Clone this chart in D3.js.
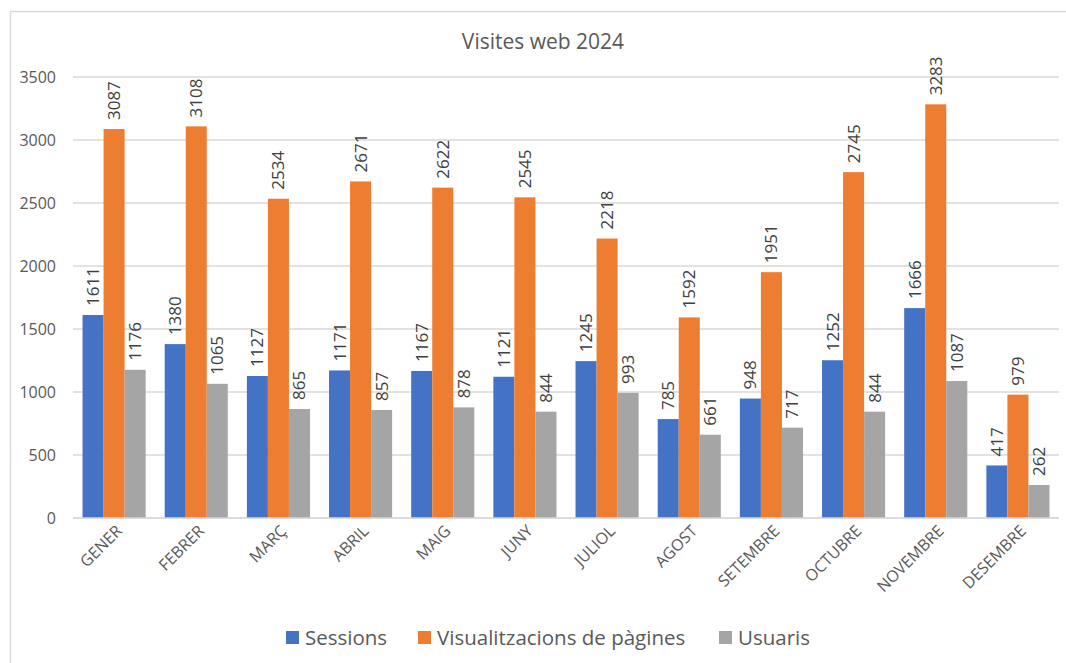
<!DOCTYPE html>
<html>
<head>
<meta charset="utf-8">
<script src="https://cdn.jsdelivr.net/npm/d3@7"></script>
<style>
  body { margin: 0; background: #fff; }
  text { font-family: "Open Sans", "Noto Sans", sans-serif; }
</style>
</head>
<body>
<div id="chart"></div>
<script>
// data
var months = ["GENER","FEBRER","MARÇ","ABRIL","MAIG","JUNY","JULIOL","AGOST","SETEMBRE","OCTUBRE","NOVEMBRE","DESEMBRE"];
var sessions = [1611,1380,1127,1171,1167,1121,1245,785,948,1252,1666,417];
var pageViews = [3087,3108,2534,2671,2622,2545,2218,1592,1951,2745,3283,979];
var users = [1176,1065,865,857,878,844,993,661,717,844,1087,262];
var seriesNames = ["Sessions","Visualitzacions de pàgines","Usuaris"];
var seriesColors = ["#4472C4","#ED7D31","#A5A5A5"];
var yTicks = [0,500,1000,1500,2000,2500,3000,3500];

var W = 1066, H = 663;
var margin = {top: 77, right: 7, bottom: 145, left: 73},
    width = W - margin.left - margin.right,
    height = H - margin.top - margin.bottom;

var svg = d3.select("#chart").append("svg")
    .attr("width", W)
    .attr("height", H);

// chart border
svg.append("rect")
  .attr("x", 10.5).attr("y", 11.5)
  .attr("width", W).attr("height", H)
  .attr("fill", "none").attr("stroke", "#D9D9D9").attr("stroke-width", 1.5);

svg.append("text")
  .attr("x", 543).attr("y", 49)
  .attr("text-anchor", "middle")
  .attr("font-size", 21)
  .attr("fill", "#595959")
  .text("Visites web 2024");

var g = svg.append("g")
  .attr("transform", "translate(" + margin.left + "," + margin.top + ")");

var x = d3.scaleBand()
  .domain(months)
  .range([0, width])
  .paddingInner(0.232)
  .paddingOuter(0.116);

var xs = d3.scaleBand()
  .domain(seriesNames)
  .range([0, x.bandwidth()]);

var y = d3.scaleLinear()
  .domain([0, 3500])
  .range([height, 0]);

// gridlines
g.selectAll(".grid")
  .data(yTicks)
  .enter().append("line")
    .attr("x1", 0).attr("x2", width)
    .attr("y1", function(d) { return y(d); })
    .attr("y2", function(d) { return y(d); })
    .attr("stroke", "#D9D9D9").attr("stroke-width", 1.3);

// y axis
var yAxis = g.append("g")
  .call(d3.axisLeft(y).tickValues(yTicks).tickFormat(d3.format("d")).tickSize(0).tickPadding(17));
yAxis.select(".domain").remove();
yAxis.selectAll("text")
  .attr("font-size", 16)
  .attr("fill", "#595959")
  .style("font-family", "'Open Sans', 'Noto Sans', sans-serif");

var rows = months.map(function(m, i) {
  return {month: m, values: [sessions[i], pageViews[i], users[i]]};
});

var groups = g.selectAll(".grp")
  .data(rows)
  .enter().append("g")
    .attr("transform", function(d) { return "translate(" + x(d.month) + ",0)"; });

groups.selectAll("rect")
  .data(function(d) { return d.values.map(function(v, k) { return {name: seriesNames[k], v: v, k: k}; }); })
  .enter().append("rect")
    .attr("x", function(d) { return xs(d.name); })
    .attr("y", function(d) { return y(d.v); })
    .attr("width", xs.bandwidth())
    .attr("height", function(d) { return height - y(d.v); })
    .attr("fill", function(d) { return seriesColors[d.k]; });

groups.selectAll(".lbl")
  .data(function(d) { return d.values.map(function(v, k) { return {name: seriesNames[k], v: v, k: k}; }); })
  .enter().append("text")
    .attr("transform", function(d) {
      return "translate(" + (xs(d.name) + xs.bandwidth() / 2 + 6) + "," + (y(d.v) - 9) + ") rotate(-90)";
    })
    .attr("font-size", 17)
    .attr("fill", "#404040")
    .text(function(d) { return d.v; });

// x axis
g.append("line")
  .attr("x1", 0).attr("x2", width)
  .attr("y1", height).attr("y2", height)
  .attr("stroke", "#D9D9D9").attr("stroke-width", 1.3);

g.selectAll(".xl")
  .data(months)
  .enter().append("text")
    .attr("transform", function(d) {
      return "translate(" + (x(d) + x.bandwidth() / 2 + 9) + "," + (height + 14) + ") rotate(-45)";
    })
    .attr("text-anchor", "end")
    .attr("font-size", 16)
    .attr("fill", "#595959")
    .text(function(d) { return d; });

// legend
var legendX = [286, 418, 719];
var lg = svg.selectAll(".leg")
  .data(seriesNames)
  .enter().append("g")
    .attr("transform", function(d, i) { return "translate(" + legendX[i] + ",631)"; });
lg.append("rect")
  .attr("width", 13).attr("height", 13)
  .attr("fill", function(d, i) { return seriesColors[i]; });
lg.append("text")
  .attr("x", 19).attr("y", 13.5)
  .attr("font-size", 20.5)
  .attr("fill", "#595959")
  .text(function(d) { return d; });
</script>
</body>
</html>
